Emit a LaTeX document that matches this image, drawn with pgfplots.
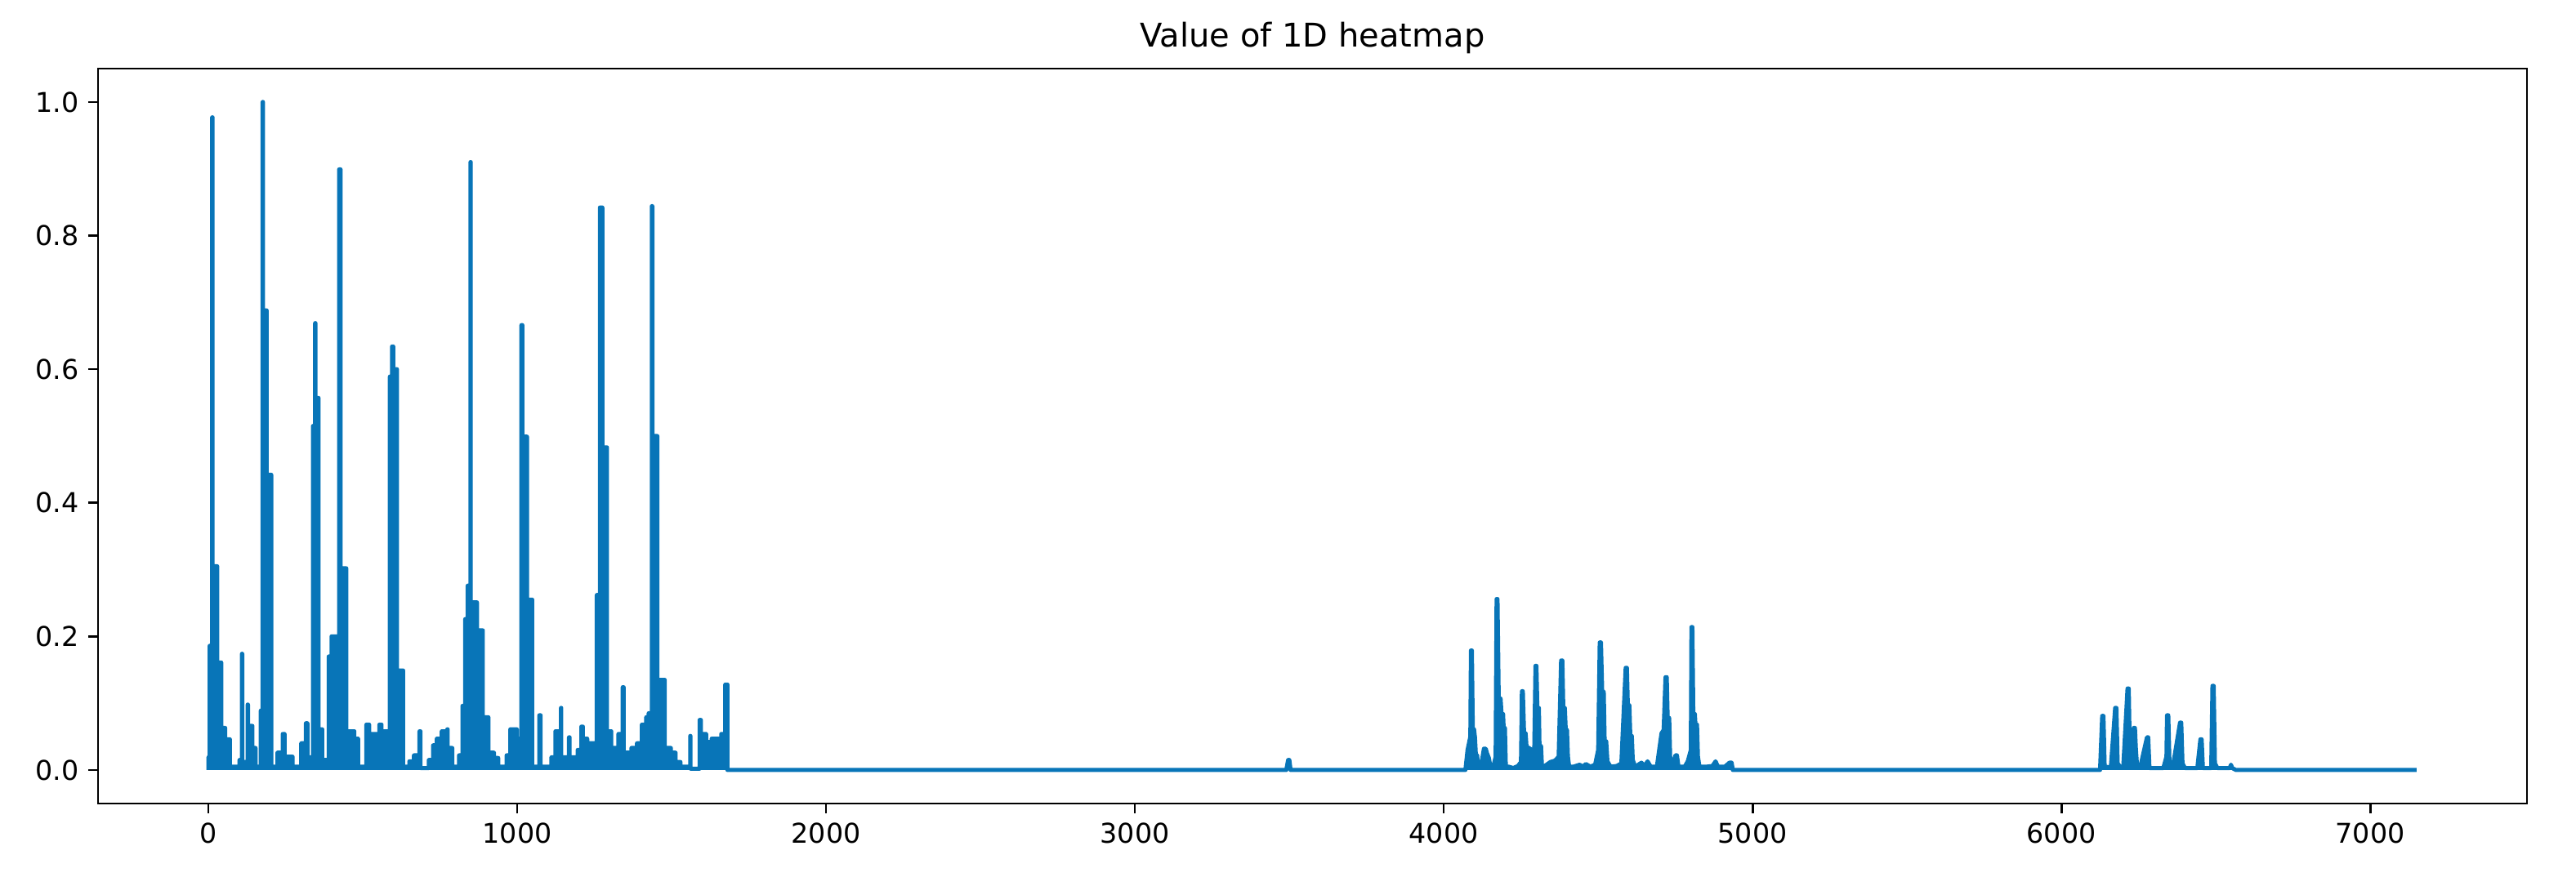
\documentclass[border=0pt]{standalone}
\usepackage{fontspec}
\setmainfont{DejaVu Sans}
\usepackage{pgfplots}
\usepackage{pgfplotstable}
\pgfplotsset{compat=1.18}
\definecolor{c0}{RGB}{8,117,184}

\pgfplotstableread{
x y
0 0
0 0.019
4 0.019
4 0.186
12 0.186
12 0.977
13.5 0.977
13.5 0.305
28.5 0.305
28.5 0.161
41.5 0.161
41.5 0.063
54.5 0.063
54.5 0.046
69.5 0.046
69.5 0.005
100.5 0.005
100.5 0.015
108.5 0.015
108.5 0.174
109.5 0.174
109.5 0.012
127 0.012
127 0.098
128 0.098
128 0.066
142.5 0.066
142.5 0.033
152.5 0.033
152.5 0.005
169.5 0.005
169.5 0.089
175.5 0.089
175.5 1.0
176.5 1.0
176.5 0.688
188.5 0.688
188.5 0.442
203.5 0.442
203.5 0.005
223.5 0.005
223.5 0.026
240.5 0.026
240.5 0.054
246.5 0.054
246.5 0.02
272.5 0.02
272.5 0.005
300.5 0.005
300.5 0.04
315.5 0.04
315.5 0.07
320.5 0.07
320.5 0.019
338.5 0.019
338.5 0.515
345.5 0.515
345.5 0.669
346.5 0.669
346.5 0.557
356.5 0.557
356.5 0.061
368.5 0.061
368.5 0.015
389.5 0.015
389.5 0.17
398.5 0.17
398.5 0.2
423 0.2
423 0.899
428 0.899
428 0.302
446.5 0.302
446.5 0.058
472.5 0.058
472.5 0.047
484.5 0.047
484.5 0.005
511.5 0.005
511.5 0.068
520.5 0.068
520.5 0.054
553.5 0.054
553.5 0.068
560.5 0.068
560.5 0.058
587.5 0.058
587.5 0.589
594.5 0.589
594.5 0.634
598.5 0.634
598.5 0.6
610.5 0.6
610.5 0.149
630.5 0.149
630.5 0.005
650.5 0.005
650.5 0.013
665.5 0.013
665.5 0.022
683.5 0.022
683.5 0.058
686.5 0.058
686.5 0.003
713.5 0.003
713.5 0.015
727.5 0.015
727.5 0.037
739.5 0.037
739.5 0.047
755.5 0.047
755.5 0.058
773.5 0.058
773.5 0.061
774.5 0.061
774.5 0.033
789.5 0.033
789.5 0.005
811.5 0.005
811.5 0.022
822.5 0.022
822.5 0.096
831.5 0.096
831.5 0.226
839.5 0.226
839.5 0.276
848.5 0.276
848.5 0.91
849.5 0.91
849.5 0.251
869.5 0.251
869.5 0.209
888.5 0.209
888.5 0.079
906.5 0.079
906.5 0.026
924.5 0.026
924.5 0.018
938.5 0.018
938.5 0.005
965.5 0.005
965.5 0.022
977.5 0.022
977.5 0.061
998.5 0.061
998.5 0.047
1013.5 0.047
1013.5 0.666
1016.5 0.666
1016.5 0.499
1031.5 0.499
1031.5 0.255
1048.5 0.255
1048.5 0.005
1071.5 0.005
1071.5 0.082
1075.5 0.082
1075.5 0.005
1110.5 0.005
1110.5 0.019
1123.5 0.019
1123.5 0.058
1141.5 0.058
1141.5 0.093
1142.5 0.093
1142.5 0.019
1167.5 0.019
1167.5 0.049
1169.5 0.049
1169.5 0.019
1195.5 0.019
1195.5 0.03
1207.5 0.03
1207.5 0.065
1212.5 0.065
1212.5 0.047
1226.5 0.047
1226.5 0.04
1257.5 0.04
1257.5 0.262
1267.5 0.262
1267.5 0.842
1275.5 0.842
1275.5 0.483
1290.5 0.483
1290.5 0.058
1304.5 0.058
1304.5 0.033
1327.5 0.033
1327.5 0.054
1341.5 0.054
1341.5 0.124
1344.5 0.124
1344.5 0.026
1369.5 0.026
1369.5 0.033
1387.5 0.033
1387.5 0.04
1403.5 0.04
1403.5 0.068
1417.5 0.068
1417.5 0.079
1425.5 0.079
1425.5 0.085
1435.5 0.085
1435.5 0.844
1437.5 0.844
1437.5 0.5
1453.5 0.5
1453.5 0.135
1477.5 0.135
1477.5 0.033
1497.5 0.033
1497.5 0.026
1512.5 0.026
1512.5 0.012
1528.5 0.012
1528.5 0.005
1560 0.005
1560 0.051
1561 0.051
1561 0.002
1590.5 0.002
1590.5 0.075
1594.5 0.075
1594.5 0.054
1611.5 0.054
1611.5 0.042
1629.5 0.042
1629.5 0.047
1660.5 0.047
1660.5 0.054
1673.5 0.054
1673.5 0.128
1680.5 0.128
1680.5 0
3490 0
3496 0.015
3500 0.015
3504 0
4070 0
4077 0.03
4086 0.05
4088 0.179
4091 0.179
4094 0.061
4098 0.061
4101 0.049
4104 0.022
4108 0.022
4112 0.003
4120 0.004
4130 0.032
4136 0.032
4140 0.025
4146 0.018
4152 0.003
4160 0.004
4168 0.02
4171 0.256
4174 0.256
4178 0.107
4184 0.107
4187 0.084
4192 0.084
4194 0.063
4198 0.063
4201 0.005
4210 0.005
4225 0.003
4240 0.006
4250 0.012
4253 0.118
4256 0.118
4260 0.055
4265 0.055
4268 0.035
4276 0.033
4285 0.03
4293 0.03
4297 0.156
4300 0.156
4303 0.093
4308 0.093
4310 0.036
4315 0.036
4318 0.005
4330 0.007
4345 0.012
4360 0.014
4372 0.02
4380 0.164
4384 0.164
4387 0.093
4392 0.093
4395 0.06
4399 0.06
4402 0.02
4406 0.005
4420 0.005
4440 0.008
4450 0.005
4460 0.009
4475 0.005
4490 0.008
4500 0.03
4505 0.191
4509 0.191
4513 0.117
4518 0.117
4521 0.043
4526 0.043
4530 0.013
4540 0.005
4560 0.006
4575 0.01
4589 0.153
4593 0.153
4596 0.097
4601 0.097
4604 0.051
4609 0.051
4612 0.015
4620 0.005
4640 0.011
4650 0.006
4660 0.013
4670 0.005
4690 0.005
4705 0.055
4712 0.06
4718 0.139
4722 0.139
4725 0.078
4730 0.078
4733 0.02
4740 0.005
4750 0.022
4755 0.022
4760 0.005
4780 0.005
4790 0.013
4800 0.03
4802 0.214
4805 0.214
4808 0.084
4813 0.084
4815 0.068
4820 0.068
4823 0.02
4828 0.005
4850 0.005
4870 0.006
4880 0.013
4888 0.005
4910 0.005
4925 0.011
4932 0.011
4936 0
6125 0
6132 0.081
6136 0.081
6140 0.005
6160 0.004
6174 0.093
6178 0.093
6182 0.01
6190 0.005
6200 0.003
6214 0.122
6218 0.122
6222 0.01
6226 0.005
6234 0.063
6238 0.063
6241 0.032
6245 0.005
6255 0.004
6277 0.049
6281 0.049
6285 0.003
6330 0.003
6340 0.02
6342 0.082
6346 0.082
6350 0.008
6360 0.003
6384 0.071
6388 0.071
6392 0.01
6400 0.003
6440 0.003
6450 0.046
6454 0.046
6458 0.003
6485 0.003
6489 0.126
6493 0.126
6497 0.01
6505 0.003
6545 0.003
6549 0.008
6553 0.003
6565 0
7150 0
}\heat

\begin{document}
\begin{tikzpicture}
\begin{axis}[
  name=main,
  scale only axis,
  width=892pt, height=270pt,
  xmin=-357.5, xmax=7507.5,
  ymin=-0.05, ymax=1.05,
  xtick={0,1000,2000,3000,4000,5000,6000,7000},
  ytick={0,0.2,0.4,0.6,0.8,1},
  xtick pos=bottom, ytick pos=left,
  tick align=outside,
  major tick length=3.5pt,
  every tick/.style={black, line width=0.8pt},
  axis line style={black, line width=0.8pt},
  /pgf/number format/assume math mode=true,
  tick label style={font=\fontsize{10}{12}\selectfont, black},
  yticklabel style={/pgf/number format/fixed, /pgf/number format/fixed zerofill, /pgf/number format/precision=1},
  xticklabel style={/pgf/number format/1000 sep={}},
  title={Value of 1D heatmap},
  title style={at={(0.5,1)}, anchor=base, yshift=2pt, font=\fontsize{12}{14}\selectfont},
]
\addplot[draw=c0, fill=c0, line width=1.5pt, line join=round] table[x=x, y=y] {\heat};
\end{axis}
\pgfresetboundingbox
\path[use as bounding box] ([xshift=-36pt, yshift=-30.3pt]main.south west) rectangle ([xshift=18pt, yshift=25.2pt]main.north east);
\end{tikzpicture}
\end{document}
